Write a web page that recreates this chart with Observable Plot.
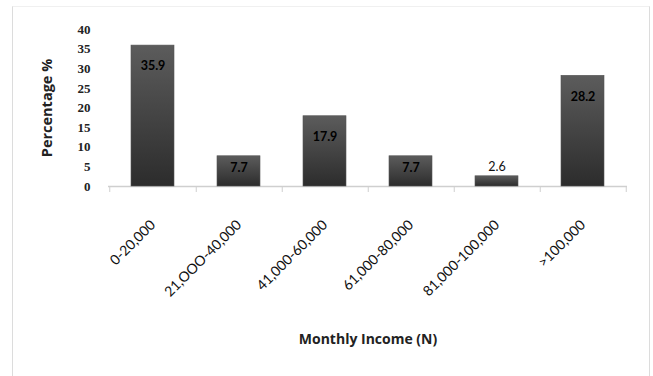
<!DOCTYPE html>
<html>
<head>
<meta charset="utf-8">
<script src="https://cdn.jsdelivr.net/npm/d3@7"></script>
<script src="https://cdn.jsdelivr.net/npm/@observablehq/plot@0.6"></script>
<style>
  html, body { margin: 0; padding: 0; background: #fff; }
  #wrap { position: relative; width: 653px; height: 376px; overflow: hidden; }
  #frame { position: absolute; left: 12px; top: 6px; width: 636px; height: 380px;
           border-left: 1.5px solid #dcdcdc; border-right: 1.5px solid #dcdcdc; border-top: 1px solid #f0f0f0; }
  #chart { position: absolute; left: 0; top: 0; }
</style>
</head>
<body>
<div id="wrap"><div id="frame"></div><div id="chart"></div></div>
<script>
const categories = ["0-20,000", "21,OOO-40,000", "41,000-60,000", "61,000-80,000", "81,000-100,000", ">100,000"];
const percentages = [35.9, 7.7, 17.9, 7.7, 2.6, 28.2];
const yTicks = [0, 5, 10, 15, 20, 25, 30, 35, 40];
const xTitle = "Monthly Income (N)";
const yTitle = "Percentage %";

const data = categories.map((c, i) => ({category: c, value: percentages[i]}));

const W = 653, H = 376, mL = 108, mR = 26, mT = 29, mB = 190;
const step = (W - mL - mR) / 6;

const chart = Plot.plot({
  width: W, height: H,
  marginLeft: mL, marginRight: mR, marginTop: mT, marginBottom: mB,
  style: {background: "transparent", color: "#111"},
  x: {type: "band", domain: categories, paddingInner: 0.5, paddingOuter: 0.25, label: null},
  y: {domain: [0, 40], label: null},
  marks: [
    Plot.ruleY([0], {stroke: "#cfcfcf", strokeWidth: 1.5}),
    Plot.axisX({ticks: categories, tickSize: 6, tickFormat: () => "", dx: step / 2, stroke: "#cfcfcf", label: null}),
    Plot.axisX({ticks: [categories[0]], tickSize: 6, tickFormat: () => "", dx: -step / 2, stroke: "#cfcfcf", label: null}),
    Plot.axisX({tickSize: 0, tickPadding: 36, tickRotate: -45, fontSize: 14, fontFamily: "Lato", fill: "#111", label: null}),
    Plot.axisY({ticks: yTicks, tickSize: 0, tickPadding: 18, fontSize: 13, fontFamily: "Liberation Serif", fontWeight: "bold", fill: "#222", label: null}),
    Plot.barY(data, {x: "category", y: "value", fill: "url(#barGrad)", stroke: "#555", strokeWidth: 0.6}),
    Plot.text(data.filter(d => d.value > 5), {x: "category", y: d => Math.max(d.value - 5.3, d.value * 0.6), text: d => d.value.toFixed(1),
      fontFamily: "Lato", fontWeight: "bold", fontSize: 12.5, fill: "#000"}),
    Plot.text(data.filter(d => d.value <= 5), {x: "category", y: "value", text: d => d.value.toFixed(1), dy: -9,
      fontFamily: "Lato", fontSize: 12.5, fill: "#111"}),
    Plot.text([yTitle], {frameAnchor: "left", textAnchor: "middle", rotate: -90, dx: -61, fontFamily: "Open Sans", fontWeight: "bold", fontSize: 14.5, fill: "#222"}),
    Plot.text([xTitle], {frameAnchor: "bottom", dy: 157, fontFamily: "Open Sans", fontWeight: "bold", fontSize: 14, fill: "#222"})
  ]
});

const defs = d3.select(chart).insert("defs", ":first-child");
const g = defs.append("linearGradient").attr("id", "barGrad").attr("x1", 0).attr("y1", 0).attr("x2", 0).attr("y2", 1);
g.append("stop").attr("offset", "0%").attr("stop-color", "#5c5c5c");
g.append("stop").attr("offset", "100%").attr("stop-color", "#2c2c2c");

document.getElementById("chart").appendChild(chart);
</script>
</body>
</html>
